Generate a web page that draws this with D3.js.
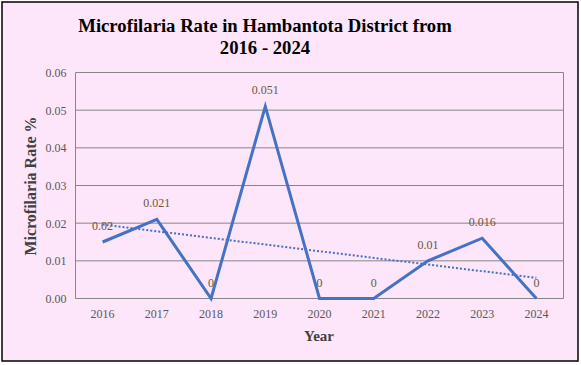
<!DOCTYPE html>
<html><head><meta charset="utf-8">
<script src="https://cdn.jsdelivr.net/npm/d3@7"></script>
<style>html,body{margin:0;padding:0;background:#fff;}svg{display:block;}</style>
</head><body>
<script>
const years = ["2016","2017","2018","2019","2020","2021","2022","2023","2024"];
const rates = [0.015,0.021,0,0.051,0,0,0.010,0.016,0];
const labels = ["0.02","0.021","0","0.051","0","0","0.01","0.016","0"];
const yTicks = [0,0.01,0.02,0.03,0.04,0.05,0.06];
const titleLines = ["Microfilaria Rate in Hambantota District from","2016 - 2024"];

const W=581,H=365;
const svg=d3.select("body").append("svg").attr("width",W).attr("height",H);
svg.append("rect").attr("x",2).attr("y",2).attr("width",576).attr("height",359)
  .attr("fill","#fde6f9").attr("stroke","#000").attr("stroke-width",1.5);

const L=75.5,R=563.5,T=72.5,B=298.5;
const x=d3.scaleBand().domain(years).range([L,R]);
const y=d3.scaleLinear().domain([0,0.06]).range([B,T]);
const serif="'Liberation Serif','Times New Roman',serif";

// gridlines
svg.append("g").selectAll("line").data(yTicks).join("line")
  .attr("x1",L).attr("x2",R).attr("y1",d=>y(d)).attr("y2",d=>y(d))
  .attr("stroke","#868686").attr("stroke-width",1);
svg.append("line").attr("x1",L).attr("x2",L).attr("y1",T).attr("y2",B).attr("stroke","#868686");
svg.append("line").attr("x1",R).attr("x2",R).attr("y1",T).attr("y2",B).attr("stroke","#868686");

// y axis
const ya=svg.append("g").attr("transform",`translate(${L},0)`)
  .call(d3.axisLeft(y).tickValues(yTicks).tickFormat(d3.format(".2f")).tickSize(0).tickPadding(9));
ya.select(".domain").remove();
ya.selectAll("text").attr("font-family",serif).attr("font-size",12).attr("fill","#595959");

// x axis
const xa=svg.append("g").attr("transform",`translate(0,${B})`)
  .call(d3.axisBottom(x).tickSize(0).tickPadding(11));
xa.select(".domain").remove();
xa.selectAll("text").attr("font-family",serif).attr("font-size",12).attr("fill","#595959");

const cx=d=>x(d)+x.bandwidth()/2;

// trendline (linear least squares)
const n=rates.length, xs=d3.range(n);
const mx=d3.mean(xs), my=d3.mean(rates);
const slope=d3.sum(xs,i=>(i-mx)*(rates[i]-my))/d3.sum(xs,i=>(i-mx)*(i-mx));
const icpt=my-slope*mx;
svg.append("line")
  .attr("x1",cx(years[0])).attr("y1",y(icpt))
  .attr("x2",cx(years[n-1])).attr("y2",y(icpt+slope*(n-1)))
  .attr("stroke","#4472c4").attr("stroke-width",2).attr("stroke-dasharray","2,2");

// series line
svg.append("path").datum(rates)
  .attr("d",d3.line().x((d,i)=>cx(years[i])).y(d=>y(d)))
  .attr("fill","none").attr("stroke","#4472c4").attr("stroke-width",3).attr("stroke-linejoin","miter");

// data labels
svg.append("g").selectAll("text").data(rates).join("text")
  .attr("x",(d,i)=>cx(years[i])).attr("y",d=>y(d)-12)
  .attr("text-anchor","middle").attr("font-family",serif).attr("font-size",12)
  .attr("fill","#6b5540").text((d,i)=>labels[i]);

// title
svg.append("text").attr("text-anchor","middle").attr("font-family",serif)
  .attr("font-weight","bold").attr("font-size",18.7).attr("fill","#000")
  .selectAll("tspan").data(titleLines).join("tspan")
  .attr("x",265).attr("y",(d,i)=>32+i*22).text(d=>d);

// axis titles
svg.append("text").attr("transform","translate(36,186) rotate(-90)")
  .attr("text-anchor","middle").attr("font-family",serif).attr("font-weight","bold")
  .attr("font-size",16).attr("fill","#404040").text("Microfilaria  Rate %");
svg.append("text").attr("x",319).attr("y",341).attr("text-anchor","middle")
  .attr("font-family",serif).attr("font-weight","bold").attr("font-size",15)
  .attr("fill","#404040").text("Year");
</script>
</body></html>
